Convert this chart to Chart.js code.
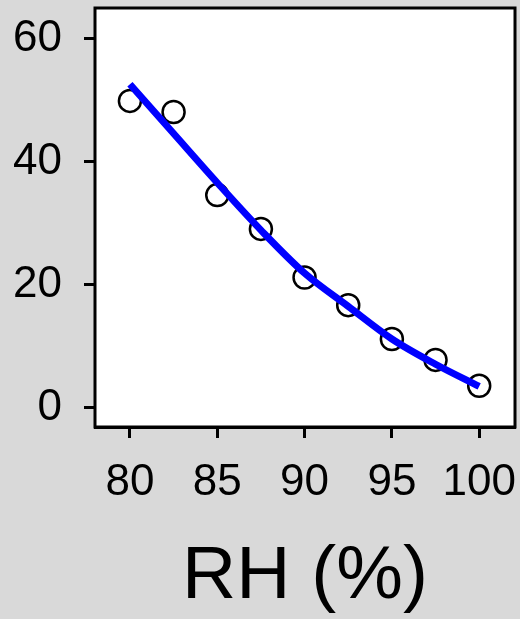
<!DOCTYPE html>
<html>
<head>
<meta charset="utf-8">
<script src="https://cdn.jsdelivr.net/npm/chart.js@4.4.1/dist/chart.umd.min.js"></script>
<style>
    body { margin: 0; background: #d9d9d9; }
    #wrap { width: 520px; height: 619px; }
</style>
</head>
<body>
<div id="wrap"><canvas id="rh-chart" width="520" height="619"></canvas></div>
<script>
// measured points
const rhValues = [80, 82.5, 85, 87.5, 90, 92.5, 95, 97.5, 100];
const measured = [49.9, 48.1, 34.6, 29.1, 21.2, 16.7, 11.2, 7.8, 3.6];

// fitted curve
const fitRh = [80, 82.5, 85, 87.5, 90, 92.5, 95, 97.5, 100];
const fitValues = [52.6, 44.6, 36.6, 28.9, 21.9, 16.5, 11.2, 7.1, 3.5];

const xTicks = [80, 85, 90, 95, 100];
const yTicks = [0, 20, 40, 60];

// white plot box with a black frame
const plotFrame = {
    id: 'plotFrame',
    beforeDatasetsDraw(chart) {
        const { ctx, chartArea: a } = chart;
        ctx.save();
        ctx.fillStyle = '#ffffff';
        ctx.fillRect(a.left, a.top, a.right - a.left, a.bottom - a.top);
        ctx.restore();
    },
    afterDraw(chart) {
        const { ctx, chartArea: a } = chart;
        ctx.save();
        ctx.strokeStyle = '#000';
        ctx.lineWidth = 3;
        ctx.strokeRect(a.left, a.top, a.right - a.left, a.bottom - a.top);
        ctx.restore();
    }
};

function noPadding(axis) {
    axis.paddingTop = 0;
    axis.paddingBottom = 0;
    axis.paddingLeft = 0;
    axis.paddingRight = 0;
}

const ctx = document.getElementById('rh-chart').getContext('2d');
const rhChart = new Chart(ctx, {
    type: 'scatter',
    data: {
        datasets: [{
            type: 'line',
            label: 'fit',
            data: fitRh.map((x, i) => ({ x: x, y: fitValues[i] })),
            borderColor: '#0000ff',
            borderWidth: 7,
            pointRadius: 0,
            tension: 0.4,
            cubicInterpolationMode: 'monotone',
            fill: false
        }, {
            label: 'measured',
            data: rhValues.map((x, i) => ({ x: x, y: measured[i] })),
            borderColor: '#000000',
            backgroundColor: 'rgba(0,0,0,0)',
            borderWidth: 2.5,
            pointRadius: 11
        }]
    },
    options: {
        responsive: false,
        animation: false,
        layout: { autoPadding: false, padding: { top: 8, right: 5, left: 0, bottom: 0 } },
        plugins: {
            legend: { display: false },
            tooltip: { enabled: false }
        },
        scales: {
            x: {
                type: 'linear',
                min: 78,
                max: 102.05,
                afterBuildTicks: axis => { axis.ticks = xTicks.map(v => ({ value: v })); },
                afterFit: axis => { axis.height = 192; noPadding(axis); },
                ticks: {
                    color: '#000',
                    padding: 18,
                    font: { family: 'Liberation Sans, Arial, sans-serif', size: 44 }
                },
                grid: { drawOnChartArea: false, drawTicks: true, tickLength: 11, tickWidth: 3, tickColor: '#000' },
                border: { color: '#000', width: 3 },
                title: {
                    display: true,
                    text: 'RH (%)',
                    color: '#000',
                    padding: { top: 12, bottom: 0 },
                    font: { family: 'Liberation Sans, Arial, sans-serif', size: 75, lineHeight: 1.1 }
                }
            },
            y: {
                type: 'linear',
                min: -3.1,
                max: 65,
                afterBuildTicks: axis => { axis.ticks = yTicks.map(v => ({ value: v })); },
                afterFit: axis => { axis.width = 95; noPadding(axis); },
                ticks: {
                    color: '#000',
                    padding: 22,
                    font: { family: 'Liberation Sans, Arial, sans-serif', size: 44 }
                },
                grid: { drawOnChartArea: false, drawTicks: true, tickLength: 11, tickWidth: 3, tickColor: '#000' },
                border: { color: '#000', width: 3 }
            }
        }
    },
    plugins: [plotFrame]
});
</script>
</body>
</html>
